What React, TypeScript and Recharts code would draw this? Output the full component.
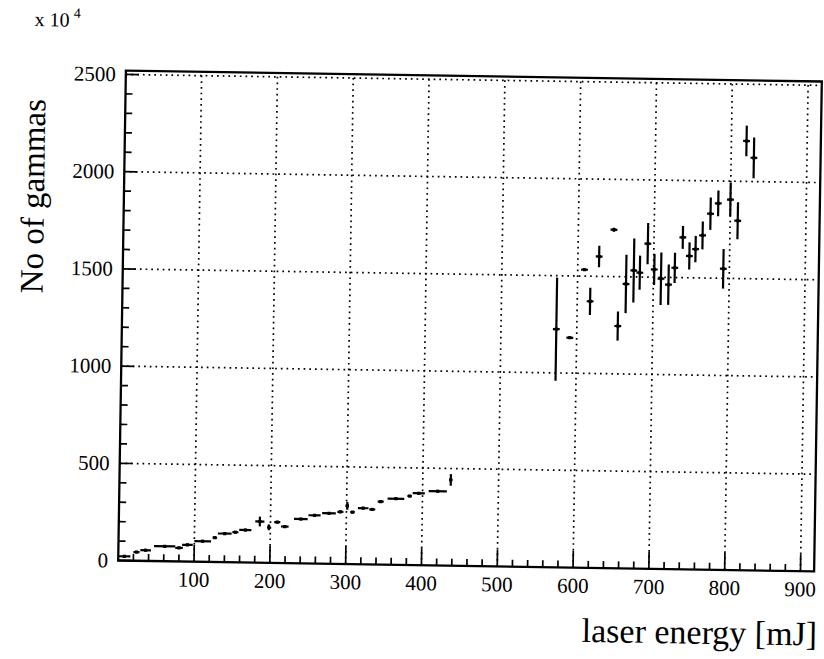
import React from "react";
import {
  ScatterChart,
  Scatter,
  XAxis,
  YAxis,
  ErrorBar,
  ReferenceLine,
  ReferenceArea,
} from "recharts";

// low energy run: bin centre [mJ], half bin width, gammas (x 10^4), error
const lowEnergy = [8, 24, 36, 61, 80, 91, 111, 127, 140, 154, 167, 186, 198, 209, 219, 240, 258, 277, 292, 301, 308, 322, 334, 345, 365, 383, 395, 420, 437];
const lowHalfWidth = [8, 4, 7, 14, 5, 7, 11, 3, 9, 4, 8, 6, 2, 4, 5, 9, 8, 9, 4, 2, 3, 7, 4, 4, 11, 3, 8, 12, 2];
const lowGammas = [22, 45, 55, 77, 70, 86, 106, 125, 147, 155, 167, 212, 183, 210, 188, 228, 248, 260, 268, 300, 268, 289, 283, 324, 340, 355, 370, 382, 441];
const lowError = [6, 6, 6, 6, 6, 6, 6, 6, 6, 6, 6, 25, 15, 6, 6, 6, 6, 6, 6, 20, 6, 6, 6, 6, 6, 6, 6, 6, 30];

// high energy run
const highEnergy = [573, 591, 609, 617, 628, 647, 654, 664, 674, 682, 692, 701, 710, 720, 728, 738, 747, 755, 764, 774, 784, 792, 800, 810, 820, 830];
const highGammas = [1225, 1182, 1533, 1371, 1602, 1741, 1246, 1463, 1533, 1522, 1672, 1540, 1493, 1463, 1550, 1707, 1612, 1648, 1719, 1831, 1885, 1549, 1905, 1797, 2208, 2122];
const highError = [265, 6, 6, 70, 55, 10, 75, 150, 165, 88, 106, 80, 135, 104, 78, 59, 70, 68, 72, 83, 66, 102, 87, 95, 79, 105];
const highHalfWidth = 4.5;

const xLabels = [100, 200, 300, 400, 500, 600, 700, 800, 900];
const yLabels = [0, 500, 1000, 1500, 2000, 2500];
const xMinor = Array.from({ length: 45 }, (_, i) => (i + 1) * 20);
const yMinor = Array.from({ length: 26 }, (_, i) => i * 100);

const X_MAX = 918;
const Y_MAX = 2520;
const FONT = "'Liberation Serif', 'Times New Roman', serif";

const lowData = lowEnergy.map((x, i) => ({
  x,
  y: lowGammas[i],
  xerr: lowHalfWidth[i],
  yerr: lowError[i],
}));

const highData = highEnergy.map((x, i) => ({
  x,
  y: highGammas[i],
  xerr: highHalfWidth,
  yerr: highError[i],
}));

const XTick = (props: any) => {
  const { x, y, payload } = props;
  const major = payload.value % 100 === 0;
  return (
    <g>
      <line x1={x} y1={y} x2={x} y2={y - (major ? 17 : 7)} stroke="#000" strokeWidth={1.7} />
      {major && (
        <text x={x} y={y + 25} textAnchor="middle" fontSize={21} fontFamily={FONT} fill="#000">
          {payload.value}
        </text>
      )}
    </g>
  );
};

const YTick = (props: any) => {
  const { x, y, payload } = props;
  const major = payload.value % 500 === 0;
  return (
    <g>
      <line x1={x} y1={y} x2={x + (major ? 13 : 7)} y2={y} stroke="#000" strokeWidth={1.7} />
      {major && (
        <text x={x - 10} y={y + 7} textAnchor="end" fontSize={21} fontFamily={FONT} fill="#000">
          {payload.value}
        </text>
      )}
    </g>
  );
};

const Point = (props: any) => {
  const { cx, cy } = props;
  return <rect x={cx - 1.6} y={cy - 1.6} width={3.2} height={3.2} fill="#000" />;
};

export default function App() {
  return (
    <div
      style={{
        position: "absolute",
        left: 0,
        top: 0,
        width: 824,
        height: 659,
        background: "#fff",
        transform: "rotate(0.9deg)",
        transformOrigin: "470px 321px",
      }}
    >
      <ScatterChart width={824} height={659} margin={{ top: 76, right: 6, bottom: 0, left: 0 }}>
        <XAxis
          type="number"
          dataKey="x"
          domain={[0, X_MAX]}
          ticks={xMinor}
          interval={0}
          tick={<XTick />}
          tickLine={false}
          axisLine={false}
          tickSize={0}
          tickMargin={0}
          height={93}
        />
        <YAxis
          type="number"
          dataKey="y"
          domain={[0, Y_MAX]}
          ticks={yMinor}
          interval={0}
          tick={<YTick />}
          tickLine={false}
          axisLine={false}
          tickSize={0}
          tickMargin={0}
          width={122}
        />
        {xLabels.map((v) => (
          <ReferenceLine key={"gx" + v} x={v} stroke="#000" strokeWidth={1.7} strokeDasharray="1.7 4" />
        ))}
        {yLabels.slice(1).map((v) => (
          <ReferenceLine key={"gy" + v} y={v} stroke="#000" strokeWidth={1.7} strokeDasharray="1.7 4" />
        ))}
        <ReferenceArea x1={0} x2={X_MAX} y1={0} y2={Y_MAX} fill="none" stroke="#000" strokeWidth={2.3} />
        <Scatter data={lowData} shape={<Point />} isAnimationActive={false}>
          <ErrorBar dataKey="xerr" direction="x" width={0} stroke="#000" strokeWidth={2.2} />
          <ErrorBar dataKey="yerr" direction="y" width={0} stroke="#000" strokeWidth={2.2} />
        </Scatter>
        <Scatter data={highData} shape={<Point />} isAnimationActive={false}>
          <ErrorBar dataKey="xerr" direction="x" width={0} stroke="#000" strokeWidth={2.2} />
          <ErrorBar dataKey="yerr" direction="y" width={0} stroke="#000" strokeWidth={2.2} />
        </Scatter>
      </ScatterChart>
      <svg
        width={824}
        height={659}
        style={{ position: "absolute", left: 0, top: 0, pointerEvents: "none" }}
        fontFamily={FONT}
      >
        <text x={30} y={33} fontSize={20} fill="#000">
          x 10
          <tspan dx={4} dy={-9} fontSize={14}>
            4
          </tspan>
        </text>
        <text x={42} y={203} fontSize={33} fill="#000" textAnchor="middle" transform="rotate(-90, 42, 203)">
          No of gammas
        </text>
        <text x={822} y={640} fontSize={34} fill="#000" textAnchor="end">
          laser energy [mJ]
        </text>
      </svg>
    </div>
  );
}
